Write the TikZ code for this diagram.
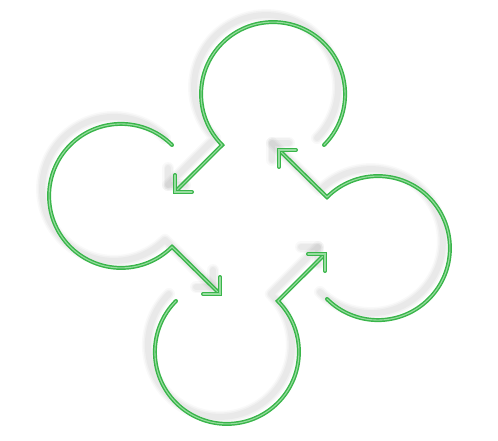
\documentclass[tikz,border=0pt]{standalone}
\definecolor{lgreen}{RGB}{57,181,74}
\definecolor{lgreeni}{RGB}{150,220,158}
\tikzset{
  ringline/.style={draw=lgreen, line width=1.45pt, double=lgreeni, double distance=1.1pt, line cap=round, line join=miter},
  shadowA/.style={draw=black, draw opacity=0.025, line width=12pt, line cap=round, line join=round},
  shadowB/.style={draw=black, draw opacity=0.03, line width=9pt, line cap=round, line join=round},
  shadowC/.style={draw=black, draw opacity=0.03, line width=6pt, line cap=round, line join=round},
}
\newcommand\loopset[1]{%
  % top loop -> left
  \draw[#1] (324,295) arc[start angle=-45,end angle=225,radius=72] -- (175,248);
  \draw[#1] (175,265) -- (175,248) -- (192,248);
  % left loop -> bottom
  \draw[#1] (172,295) arc[start angle=45,end angle=315,radius=72] -- (220,146);
  \draw[#1] (220,163) -- (220,146) -- (203,146);
  % bottom loop -> right
  \draw[#1] (176,139) arc[start angle=135,end angle=405,radius=72] -- (325,186);
  \draw[#1] (308,186) -- (325,186) -- (325,169);
  % right loop -> top
  \draw[#1] (327,141) arc[start angle=225,end angle=495,radius=72] -- (279,290);
  \draw[#1] (296,290) -- (279,290) -- (279,273);
}
\begin{document}
\begin{tikzpicture}[x=1pt,y=1pt]
  \useasboundingbox (0,0) rectangle (498,440);
  \begin{scope}[shift={(-7,7)}]
    \loopset{shadowA}
    \loopset{shadowB}
    \loopset{shadowC}
  \end{scope}
  \loopset{ringline}
\end{tikzpicture}
\end{document}
